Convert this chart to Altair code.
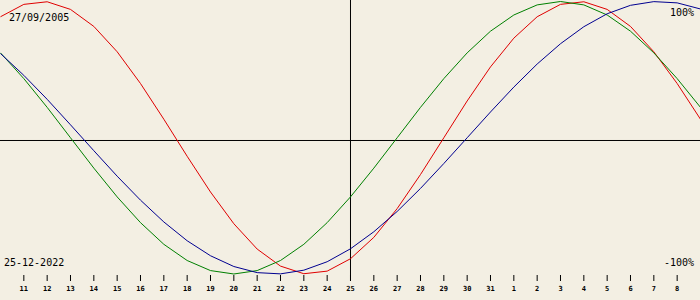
import altair as alt
import pandas as pd

# Days relative to the target date 25-12-2022 (Dec 10 .. Jan 9)
day_offsets = [-15, -14, -13, -12, -11, -10, -9, -8, -7, -6, -5, -4, -3, -2, -1,
               0, 1, 2, 3, 4, 5, 6, 7, 8, 9, 10, 11, 12, 13, 14, 15]

physical = [0.888, 0.979, 0.998, 0.942, 0.817, 0.631, 0.398, 0.136, -0.136, -0.398,
            -0.631, -0.817, -0.942, -0.998, -0.979, -0.888, -0.731, -0.520, -0.270, 0.000,
            0.270, 0.520, 0.731, 0.888, 0.979, 0.998, 0.942, 0.817, 0.631, 0.398, 0.136]

emotional = [0.623, 0.434, 0.223, 0.000, -0.223, -0.434, -0.623, -0.782, -0.901, -0.975,
             -1.000, -0.975, -0.901, -0.782, -0.623, -0.434, -0.223, 0.000, 0.223, 0.434,
             0.623, 0.782, 0.901, 0.975, 1.000, 0.975, 0.901, 0.782, 0.623, 0.434, 0.223]

intellectual = [0.618, 0.458, 0.282, 0.095, -0.095, -0.282, -0.458, -0.618, -0.756, -0.866,
                -0.945, -0.990, -0.999, -0.972, -0.910, -0.815, -0.690, -0.541, -0.372, -0.189,
                0.000, 0.189, 0.372, 0.541, 0.690, 0.815, 0.910, 0.972, 0.999, 0.990, 0.945]

tick_offsets = [-14, -13, -12, -11, -10, -9, -8, -7, -6, -5, -4, -3, -2, -1, 0,
                1, 2, 3, 4, 5, 6, 7, 8, 9, 10, 11, 12, 13, 14]
tick_labels = ["11", "12", "13", "14", "15", "16", "17", "18", "19", "20", "21",
               "22", "23", "24", "25", "26", "27", "28", "29", "30", "31",
               "1", "2", "3", "4", "5", "6", "7", "8"]

birth_label = "27/09/2005"
target_label = "25-12-2022"
top_label = "100%"
bottom_label = "-100%"

BG = "#F3EFE3"
FONT = "DejaVu Sans Mono"

xscale = alt.Scale(domain=[-15.0214, 14.9786], nice=False, zero=False)
yscale = alt.Scale(domain=[-1.19083, 1.01101], nice=False, zero=False)

df = pd.DataFrame({"d": day_offsets, "phys": physical, "emo": emotional, "intel": intellectual})
ticks = pd.DataFrame({"d": tick_offsets, "label": tick_labels})


def curve(field, color):
    return alt.Chart(df).mark_line(color=color, strokeWidth=1).encode(
        x=alt.X("d:Q", scale=xscale, axis=None),
        y=alt.Y(f"{field}:Q", scale=yscale, axis=None),
    )


hline = alt.Chart(pd.DataFrame({"v": [-0.02018]})).mark_rule(color="black", strokeWidth=1).encode(
    y=alt.Y("v:Q", scale=yscale, axis=None),
    x=alt.value(0), x2=alt.value(700),
)

vline = alt.Chart(pd.DataFrame({"d": [0]})).mark_rule(color="black", strokeWidth=1).encode(
    x=alt.X("d:Q", scale=xscale, axis=None),
    y=alt.value(0), y2=alt.value(281),
)

tick_marks = alt.Chart(ticks).mark_rule(color="black", strokeWidth=1).encode(
    x=alt.X("d:Q", scale=xscale, axis=None),
    y=alt.value(275), y2=alt.value(281),
)

tick_text = alt.Chart(ticks).mark_text(
    font=FONT, fontSize=7, fontWeight="bold", color="black", align="center", baseline="alphabetic"
).encode(
    x=alt.X("d:Q", scale=xscale, axis=None),
    y=alt.value(291),
    text="label:N",
)


def corner(txt, x, y, align):
    return alt.Chart(pd.DataFrame({"t": [txt]})).mark_text(
        font=FONT, fontSize=10, color="black", align=align, baseline="alphabetic"
    ).encode(x=alt.value(x), y=alt.value(y), text="t:N")


chart = alt.layer(
    hline,
    vline,
    tick_marks,
    tick_text,
    curve("phys", "#E00000"),
    curve("emo", "#008000"),
    curve("intel", "#000090"),
    corner(birth_label, 9, 21, "left"),
    corner(top_label, 694, 16, "right"),
    corner(target_label, 4, 266, "left"),
    corner(bottom_label, 694, 266, "right"),
).properties(
    width=700, height=300, background=BG, padding=0, autosize=alt.AutoSizeParams(type="none")
).configure_view(stroke=None, fill=BG)

chart.save("out.html", embed_options={"renderer": "svg", "actions": False})
